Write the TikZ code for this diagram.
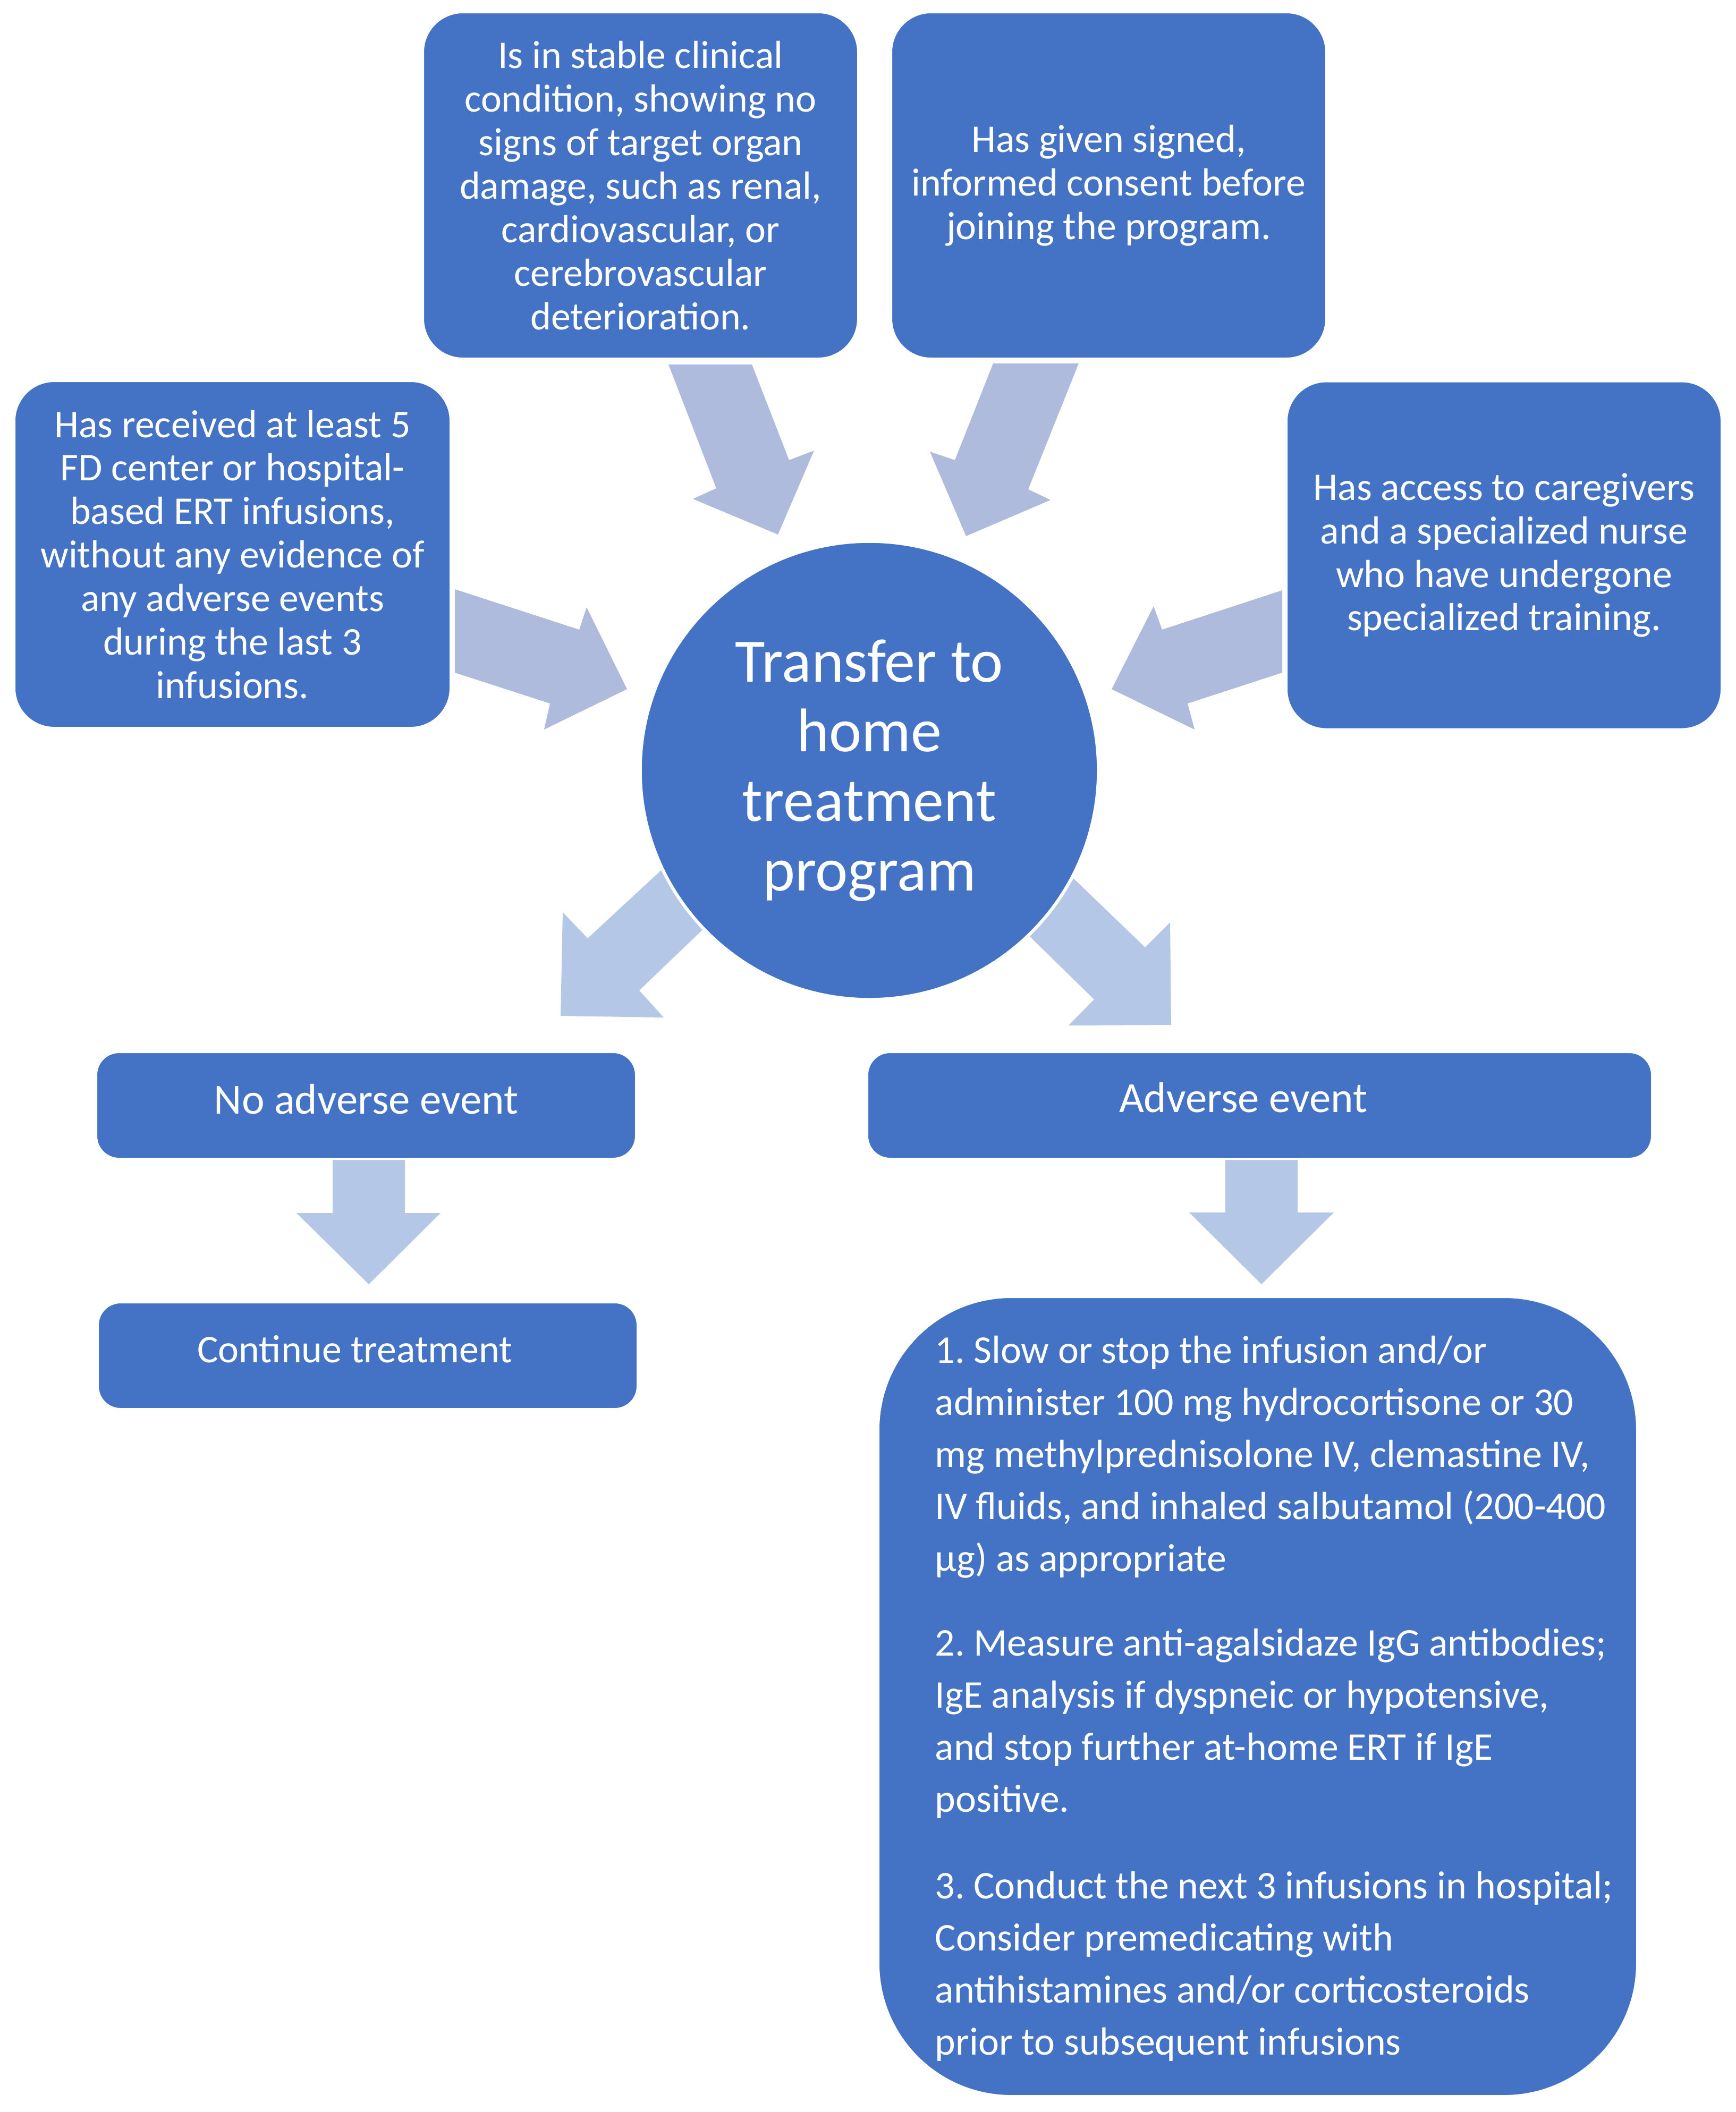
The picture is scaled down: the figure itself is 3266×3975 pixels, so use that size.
\documentclass[tikz,border=0pt]{standalone}
\usepackage{fontspec}
\setmainfont{Carlito}
\frenchspacing
\definecolor{boxblue}{HTML}{4472C4}
\definecolor{arrowtop}{HTML}{AFBBDC}
\definecolor{arrowbot}{HTML}{B4C7E7}
\begin{document}
\begin{tikzpicture}[x=0.01cm,y=-0.01cm,
  sz/.style 2 args={minimum width=#1*0.01cm, minimum height=#2*0.01cm},
  bluebox/.style={fill=boxblue, draw=white, line width=0.04cm, text=white, align=center, inner sep=0pt},
  crit/.style={bluebox, rounded corners=0.75cm, font=\fontsize{21pt}{23.3pt}\selectfont},
  outcome/.style={bluebox, rounded corners=0.43cm},
  bigarrow/.style={fill=arrowtop, draw=none},
  lowarrow/.style={fill=arrowbot, draw=none}
]
\useasboundingbox (0,0) rectangle (3266,3975);

% block arrows (drawn first, under the shapes)
\fill[bigarrow] (1258,686) -- (1415,686) -- (1485,866) -- (1532,848) -- (1464,1006) -- (1304,939) -- (1348,919) -- cycle;
\fill[bigarrow] (1869,684) -- (2030,684) -- (1935,921) -- (1977,941) -- (1818,1009) -- (1750,850) -- (1797,866) -- cycle;
\fill[bigarrow] (856,1109) -- (1090,1185) -- (1104,1143) -- (1180,1297) -- (1024,1373) -- (1035,1324) -- (856,1266) -- cycle;
\fill[bigarrow] (2413,1111) -- (2187,1185) -- (2171,1141) -- (2092,1297) -- (2248,1373) -- (2235,1324) -- (2413,1266) -- cycle;
\fill[lowarrow] (1270,1614) -- (1106,1766) -- (1059,1717) -- (1055,1912) -- (1249,1915) -- (1203,1864) -- (1348,1725) -- cycle;
\fill[lowarrow] (1995,1629) -- (2155,1783) -- (2202,1736) -- (2204,1929) -- (2011,1930) -- (2059,1881) -- (1913,1738) -- cycle;
\fill[lowarrow] (626,2175) -- (762,2175) -- (762,2283) -- (829,2283) -- (694,2417) -- (558,2283) -- (626,2283) -- cycle;
\fill[lowarrow] (2306,2175) -- (2442,2175) -- (2442,2282) -- (2510,2282) -- (2374,2417) -- (2238,2282) -- (2306,2282) -- cycle;

% criteria boxes
\node[crit, sz={819}{652}] (stable) at (1205.5,349)
  {Is in stable clinical\\condition, showing no\\signs of target organ\\damage, such as renal,\\cardiovascular, or\\cerebrovascular\\deterioration.};
\node[crit, sz={819}{652}] (consent) at (2086.5,349)
  {Has given signed,\\informed consent before\\joining the program.};
\node[crit, sz={821}{653}] (infusions) at (437.5,1043.5)
  {Has received at least 5\\FD center or hospital-\\based ERT infusions,\\without any evidence of\\any adverse events\\during the last 3\\infusions.};
\node[crit, sz={819}{655}] (caregivers) at (2830.5,1045)
  {Has access to caregivers\\and a specialized nurse\\who have undergone\\specialized training.};

% central circle
\node[circle, fill=boxblue, draw=white, line width=0.06cm, text=white, align=center, inner sep=0pt,
  minimum size=8.62cm, font=\fontsize{33pt}{37.3pt}\selectfont] (transfer) at (1636,1450)
  {Transfer to\\home\\treatment\\program};

% outcome boxes
\node[outcome, sz={1016}{201}, text height=16pt, text depth=6.8pt, font=\fontsize{23pt}{27pt}\selectfont] (noae) at (689,2080.5) {No adverse event};
\node[outcome, sz={1016}{201}, text height=15pt, text depth=7.8pt, font=\fontsize{21pt}{25pt}\selectfont] (cont) at (692,2551.5) {Continue treatment\hspace*{0.48cm}};
\node[outcome, sz={1477}{201}, text height=15pt, text depth=7.8pt, font=\fontsize{23pt}{27pt}\selectfont] (ae) at (2370.5,2080.5) {Adverse event\hspace*{0.62cm}};

% management box
\node[bluebox, rounded corners=2.5cm, sz={1428}{1504}] (manage) at (2367,3193) {};
\node[anchor=base west, text=white, align=flush left, text width=14cm, inner sep=0pt,
  font=\fontsize{21pt}{27.9pt}\selectfont] (steps) at (1759,2565)
  {1. Slow or stop the infusion and/or\\
   administer 100 mg hydrocortisone or 30\\
   mg methylprednisolone IV, clemastine IV,\\
   IV fluids, and inhaled salbutamol (200-400\\
   µg) as appropriate\\[0.61cm]
   2. Measure anti-agalsidaze IgG antibodies;\\
   IgE analysis if dyspneic or hypotensive,\\
   and stop further at-home ERT if IgE\\
   positive.\\[0.64cm]
   3. Conduct the next 3 infusions in hospital;\\
   Consider premedicating with\\
   antihistamines and/or corticosteroids\\
   prior to subsequent infusions};
\end{tikzpicture}
\end{document}
